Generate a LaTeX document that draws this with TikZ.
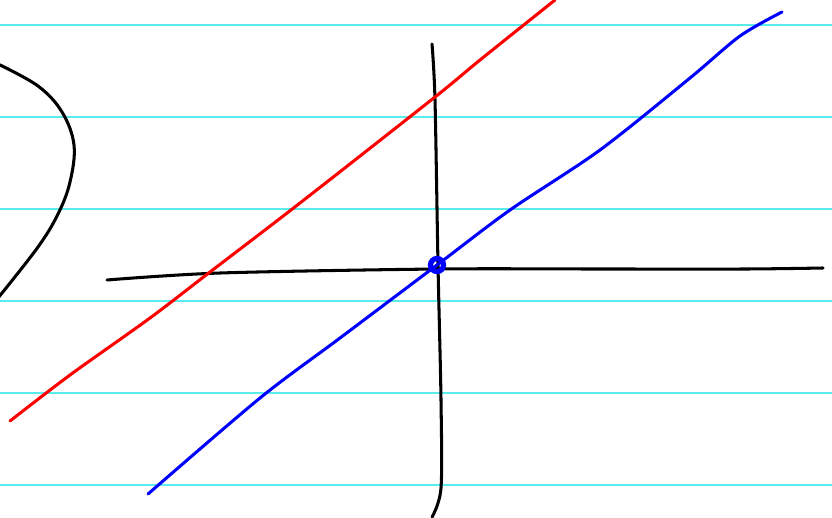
\documentclass[tikz,border=0pt]{standalone}
\usepackage{tikz}
\definecolor{rulecyan}{RGB}{90,235,235}
\tikzset{
  rule/.style   = {rulecyan, line width=0.9pt},
  pen/.style    = {line width=2.6pt, line cap=round, line join=round},
  axis/.style   = {pen, black},
}
\begin{document}
\begin{tikzpicture}[x=0.3mm, y=-0.3mm]
  \useasboundingbox (0,0) rectangle (832,517);
  % ruled paper
  \foreach \y in {25,117,209,301,393,485}
    \draw[rule] (0,\y) -- (832,\y);

  % curve on the left
  \draw[axis] plot[smooth, tension=0.6] coordinates {(-2,64) (38,86) (62,112) (74,145) (70,182) (58,214) (38,247) (-2,298)};

  % axes
  \draw[axis] plot[smooth, tension=0.5] coordinates {(107,280) (220,273) (437,269) (600,269) (745,269) (823,268)};
  \draw[axis] plot[smooth, tension=0.5] coordinates {(432,44) (435,100) (438,265) (441,400) (441,488) (432,517)};

  % red line
  \draw[pen, red] plot[smooth, tension=0.5] coordinates {(10,421) (70,375) (150,318) (210,272) (300,203) (435,97) (480,60) (555,0)};

  % blue line
  \draw[pen, blue] plot[smooth, tension=0.5] coordinates {(148,494) (260,398) (340,338) (437,265) (510,210) (600,150) (690,78) (740,36) (782,12)};

  % marked point
  \coordinate (origin) at (437,265);
  \draw[blue, line width=4.5pt] (origin) circle[radius=6.5];
\end{tikzpicture}
\end{document}
